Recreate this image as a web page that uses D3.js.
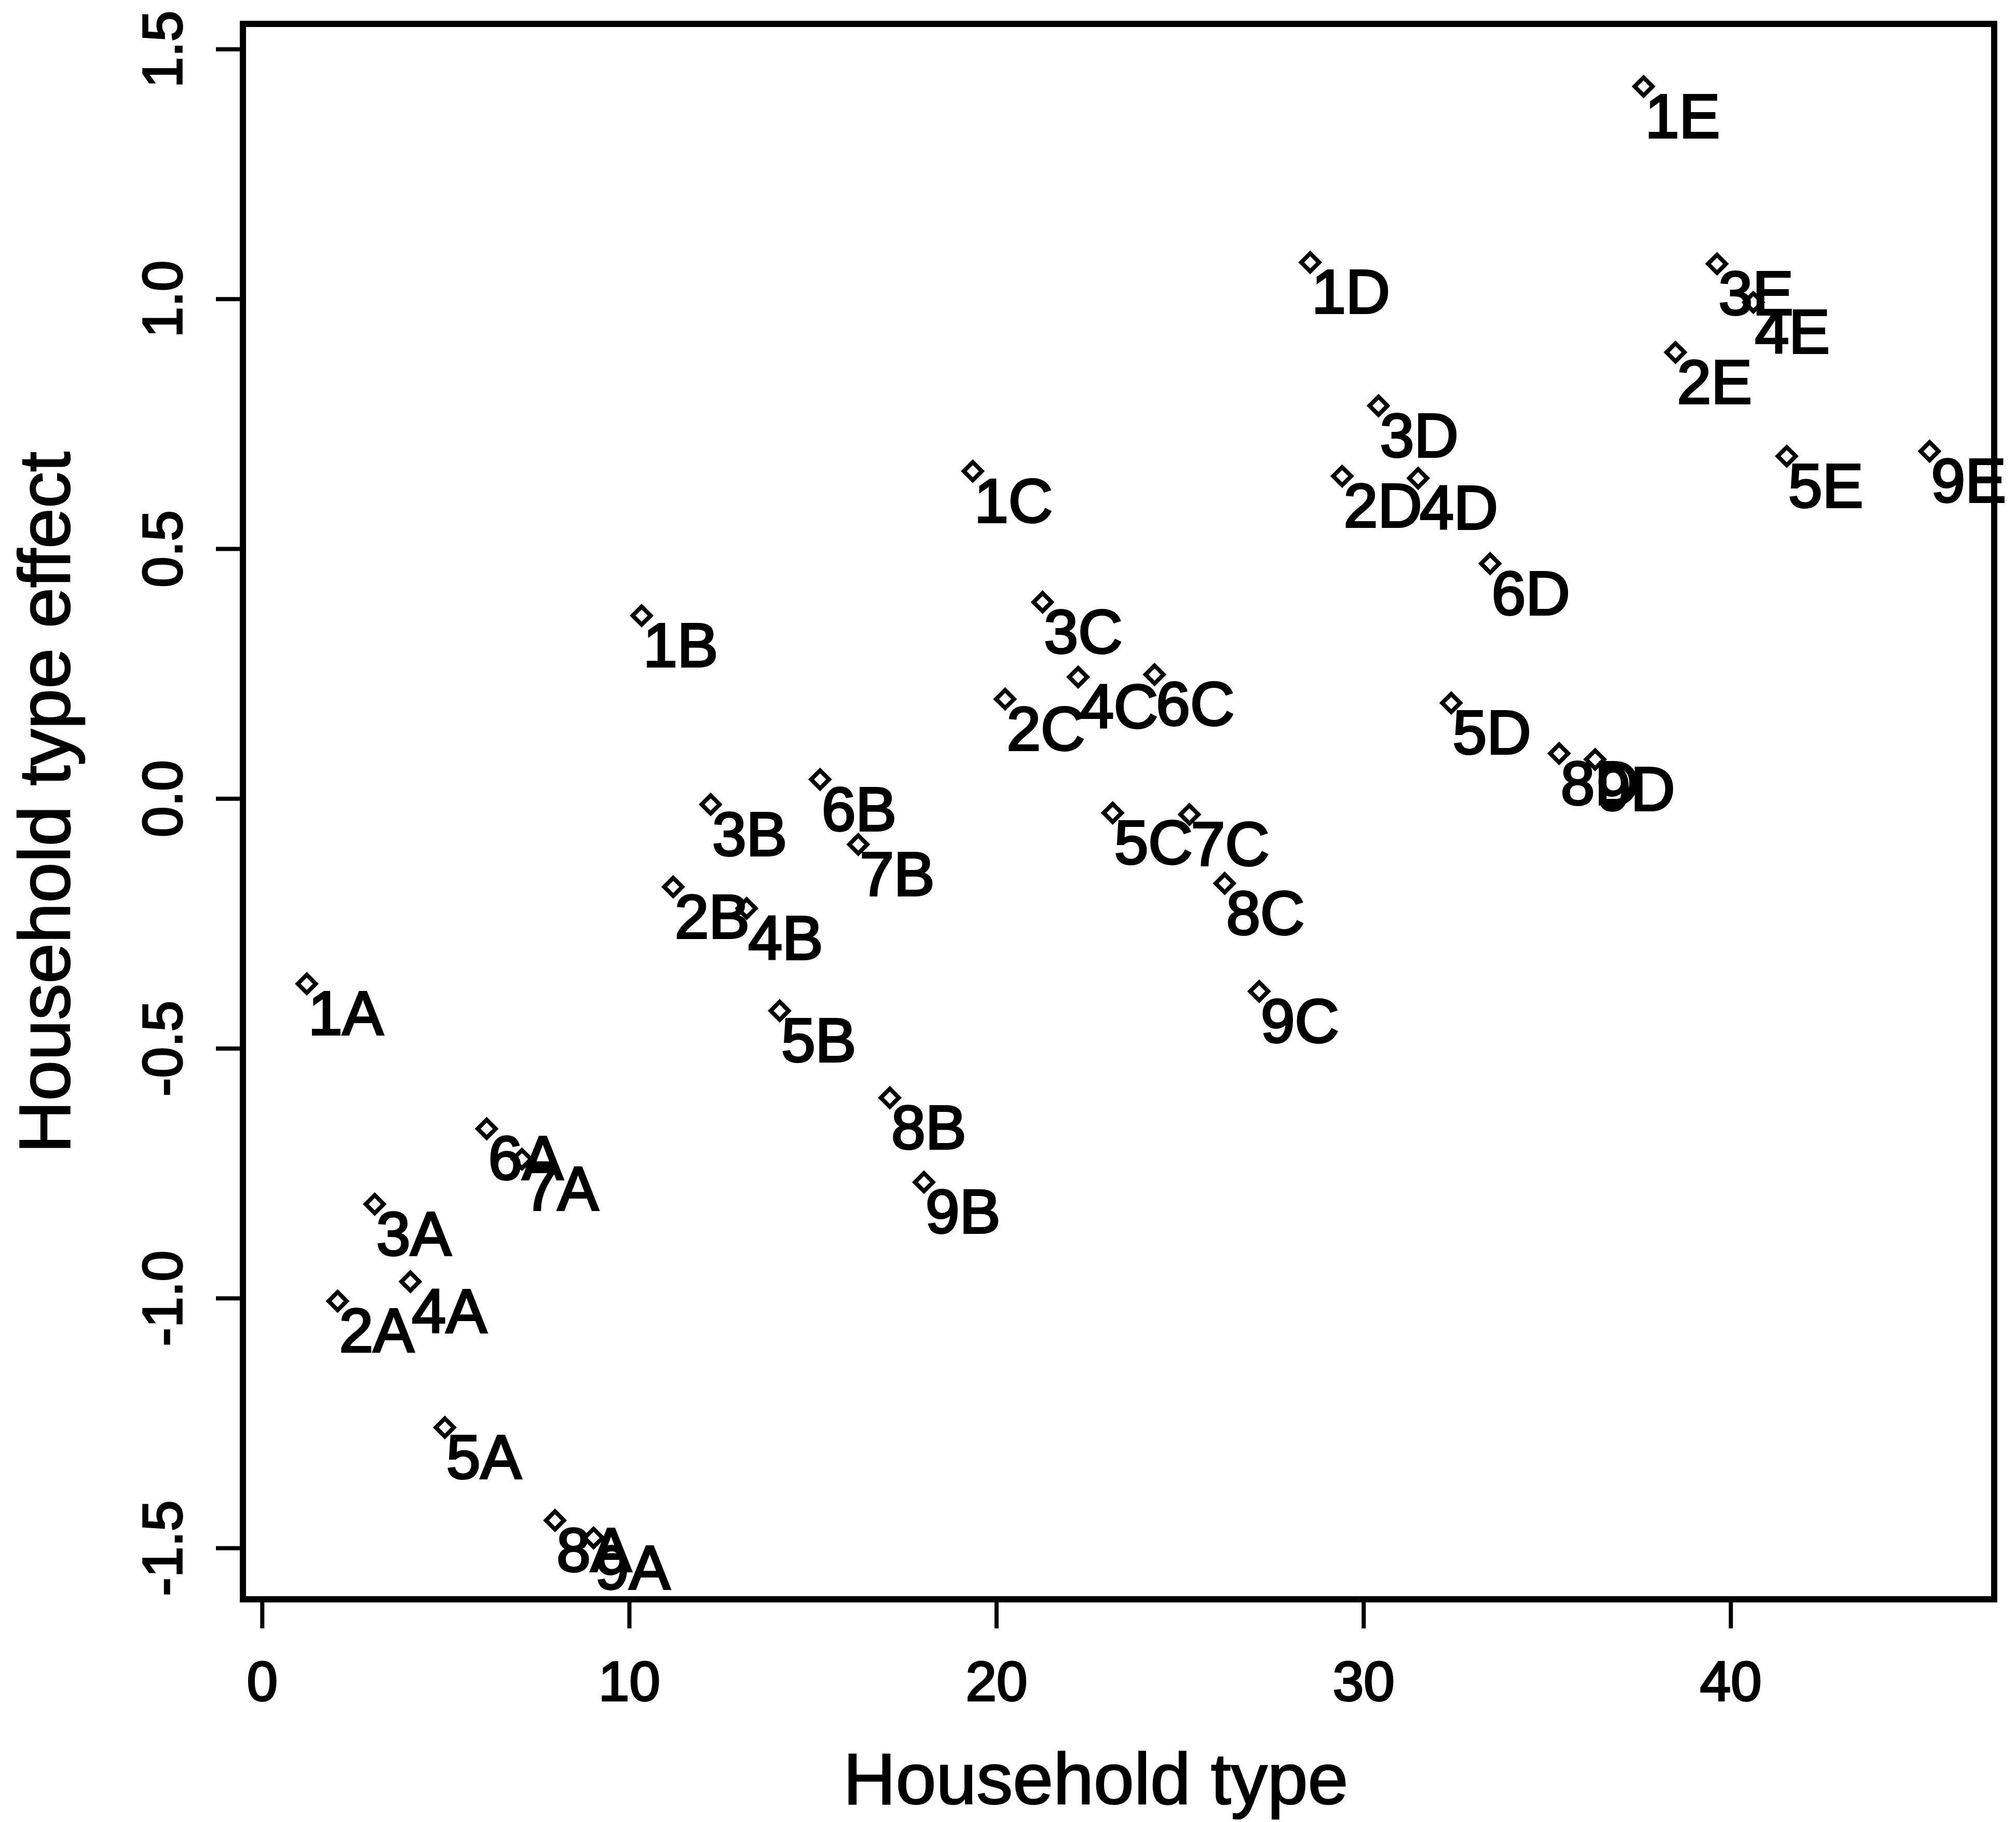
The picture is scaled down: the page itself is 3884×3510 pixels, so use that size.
<!DOCTYPE html>
<html>
<head>
<meta charset="utf-8">
<script src="https://cdn.jsdelivr.net/npm/d3@7"></script>
<style>
  body { margin: 0; background: #fff; }
  text { font-family: "Liberation Sans", Arial, sans-serif; fill: #000; }
</style>
</head>
<body>
<svg id="chart"></svg>
<script>
// Data
const labels = [
  "1A", "2A", "3A", "4A", "5A", "6A", "7A", "8A", "9A",
  "1B", "2B", "3B", "4B", "5B", "6B", "7B", "8B", "9B",
  "1C", "2C", "3C", "4C", "5C", "6C", "7C", "8C", "9C",
  "1D", "2D", "3D", "4D", "5D", "6D", "8D", "9D",
  "1E", "2E", "3E", "4E", "5E", "9E"
];
const householdType = [
  1.22, 2.06, 3.07, 4.04, 4.98, 6.12, 7.08, 7.98, 9.03,
  10.34, 11.2, 12.22, 13.2, 14.1, 15.2, 16.24, 17.1, 18.03,
  19.36, 20.24, 21.26, 22.23, 23.17, 24.31, 25.26, 26.22, 27.16,
  28.55, 29.42, 30.41, 31.49, 32.39, 33.45, 35.33, 36.31,
  37.63, 38.5, 39.63, 40.62, 41.53, 45.42
];
const typeEffect = [
  -0.371, -1.006, -0.812, -0.967, -1.259, -0.661, -0.722, -1.445, -1.480,
  0.366, -0.177, -0.012, -0.220, -0.425, 0.038, -0.092, -0.599, -0.768,
  0.655, 0.199, 0.393, 0.243, -0.029, 0.248, -0.032, -0.170, -0.386,
  1.073, 0.645, 0.786, 0.641, 0.191, 0.470, 0.090, 0.078,
  1.425, 0.893, 1.070, 0.993, 0.685, 0.695
];
const xTicks = [0, 10, 20, 30, 40];
const yTicks = [-1.5, -1.0, -0.5, 0.0, 0.5, 1.0, 1.5];
const yTickLabels = ["-1.5", "-1.0", "-0.5", "0.0", "0.5", "1.0", "1.5"];

// Layout
const W = 3884, H = 3510;
const plot = { left: 468, right: 3842, top: 46, bottom: 3081 };

const svg = d3.select("#chart")
    .attr("width", W)
    .attr("height", H);

svg.append("rect")
    .attr("width", W)
    .attr("height", H)
    .attr("fill", "#fff");

// Scales
const x = d3.scaleLinear()
    .domain([-0.52, 47.18])
    .range([plot.left, plot.right]);

const y = d3.scaleLinear()
    .domain([-1.6029, 1.5503])
    .range([plot.bottom, plot.top]);

// Axes
const xAxisG = svg.append("g")
    .attr("transform", `translate(0,${plot.bottom})`)
    .call(d3.axisBottom(x)
        .tickValues(xTicks)
        .tickFormat(d3.format("d"))
        .tickSizeInner(56)
        .tickSizeOuter(0)
        .tickPadding(63));

xAxisG.select(".domain").remove();
xAxisG.selectAll("line").attr("stroke", "#000").attr("stroke-width", 8);
xAxisG.selectAll("text")
    .attr("font-size", 107)
    .attr("font-family", "Liberation Sans, Arial, sans-serif")
    .attr("stroke", "#000")
    .attr("stroke-width", 3.5);

const yAxisG = svg.append("g")
    .attr("transform", `translate(${plot.left},0)`)
    .call(d3.axisLeft(y)
        .tickValues(yTicks)
        .tickFormat((d, i) => yTickLabels[i])
        .tickSizeInner(52)
        .tickSizeOuter(0));

yAxisG.select(".domain").remove();
yAxisG.selectAll("line").attr("stroke", "#000").attr("stroke-width", 8);
yAxisG.selectAll("text")
    .attr("transform", "rotate(-90)")
    .attr("text-anchor", "middle")
    .attr("x", 0)
    .attr("y", -118)
    .attr("dy", null)
    .attr("font-size", 107)
    .attr("font-family", "Liberation Sans, Arial, sans-serif")
    .attr("stroke", "#000")
    .attr("stroke-width", 3.5);

// Plot box
svg.append("rect")
    .attr("x", plot.left)
    .attr("y", plot.top)
    .attr("width", plot.right - plot.left)
    .attr("height", plot.bottom - plot.top)
    .attr("fill", "none")
    .attr("stroke", "#000")
    .attr("stroke-width", 12);

// Axis titles
svg.append("text")
    .attr("x", 2111)
    .attr("y", 3475)
    .attr("text-anchor", "middle")
    .attr("font-size", 140)
    .attr("stroke", "#000")
    .attr("stroke-width", 2.5)
    .text("Household type");

svg.append("text")
    .attr("transform", "translate(134,1546) rotate(-90)")
    .attr("text-anchor", "middle")
    .attr("font-size", 140)
    .attr("stroke", "#000")
    .attr("stroke-width", 2.5)
    .text("Household type effect");

// Points (open diamonds) with labels below-right
const points = labels.map((lab, i) => ({ lab, hx: householdType[i], eff: typeEffect[i] }));

const diamond = d3.symbol().type(d3.symbolSquare).size(600);

svg.append("g")
    .selectAll("path")
    .data(points)
    .join("path")
    .attr("d", diamond)
    .attr("transform", d => `translate(${x(d.hx)},${y(d.eff)}) rotate(45)`)
    .attr("fill", "none")
    .attr("stroke", "#000")
    .attr("stroke-width", 8);

svg.append("g")
    .selectAll("text")
    .data(points)
    .join("text")
    .attr("x", d => x(d.hx))
    .attr("y", d => y(d.eff))
    .attr("dx", 3)
    .attr("dy", 98)
    .attr("font-size", 118)
    .attr("stroke", "#000")
    .attr("stroke-width", 4)
    .text(d => d.lab);
</script>
</body>
</html>
